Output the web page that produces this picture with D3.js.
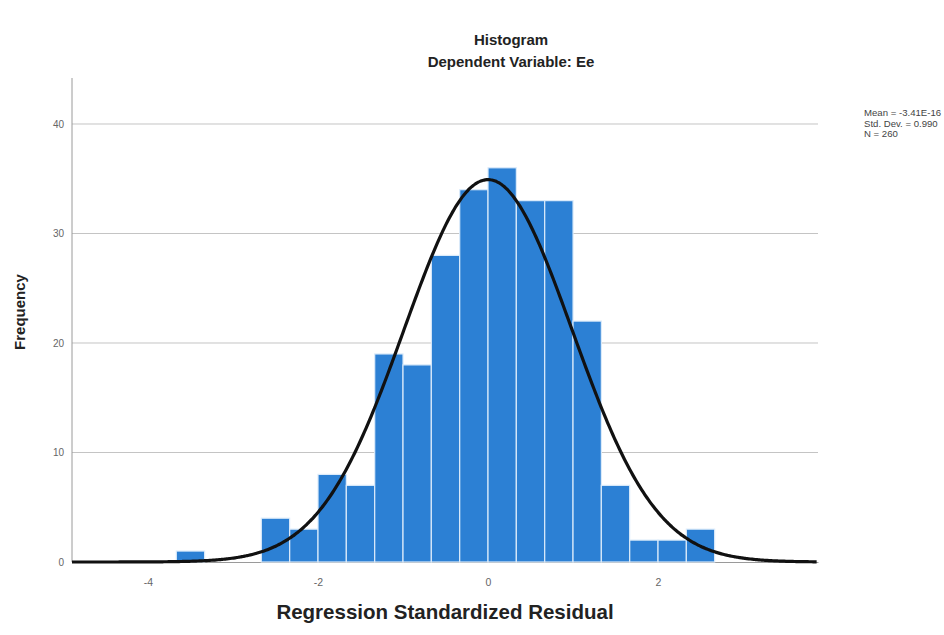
<!DOCTYPE html>
<html>
<head>
<meta charset="utf-8">
<script src="https://cdn.jsdelivr.net/npm/d3@7"></script>
<style>
  html, body { margin: 0; padding: 0; background: #ffffff; }
  svg { display: block; font-family: "Liberation Sans", Arial, sans-serif; }
</style>
</head>
<body>
<svg id="chart" width="944" height="635"></svg>
<script>
// Histogram of regression standardized residuals with fitted normal curve
const binLower = [-3.667, -2.667, -2.333, -2.000, -1.667, -1.333, -1.000, -0.667,
                  -0.333, 0.000, 0.333, 0.667, 1.000, 1.333, 1.667, 2.000, 2.333];
const counts   = [1, 4, 3, 8, 7, 19, 18, 28, 34, 36, 33, 33, 22, 7, 2, 2, 3];
const binWidth = 0.3333;

const xTicks = [-4, -2, 0, 2];
const yTicks = [0, 10, 20, 30, 40];

const stats = { mean: -3.41e-16, sd: 0.990, n: 260 };
const statLines = ["Mean = -3.41E-16", "Std. Dev. = 0.990", "N = 260"];

const titleText = "Histogram";
const subtitleText = "Dependent Variable: Ee";
const xTitle = "Regression Standardized Residual";
const yTitle = "Frequency";

const svg = d3.select("#chart");

const plot = { left: 72, right: 818, top: 78, bottom: 562 };

const x = d3.scaleLinear().domain([-4.894, 3.882]).range([plot.left, plot.right]);
const y = d3.scaleLinear().domain([0, 44.2]).range([plot.bottom, plot.top]);

// horizontal gridlines
svg.append("g")
  .selectAll("line")
  .data(yTicks.filter(d => d > 0))
  .join("line")
  .attr("x1", plot.left).attr("x2", plot.right)
  .attr("y1", d => y(d)).attr("y2", d => y(d))
  .attr("stroke", "#c4c4c4").attr("stroke-width", 1);

// y axis
const yAxis = d3.axisLeft(y).tickValues(yTicks).tickSize(0).tickPadding(8);
const gy = svg.append("g").attr("transform", `translate(${plot.left},0)`).call(yAxis);
gy.select(".domain").attr("stroke", "#9a9a9a").attr("d", `M0,${plot.top}V${plot.bottom}`);
gy.selectAll("text").attr("fill", "#666").style("font-size", "10px");

// x axis (plain hyphen for negatives)
const xAxis = d3.axisBottom(x).tickValues(xTicks).tickSize(0).tickPadding(17)
  .tickFormat(d => String(d));
const gx = svg.append("g").attr("transform", `translate(0,${plot.bottom})`).call(xAxis);
gx.select(".domain").attr("stroke", "#9a9a9a");
gx.selectAll("text").attr("fill", "#666").style("font-size", "10.5px");

// bars
svg.append("g")
  .selectAll("rect")
  .data(counts.map((c, i) => ({ lo: binLower[i], c })))
  .join("rect")
  .attr("x", d => x(d.lo))
  .attr("width", d => x(d.lo + binWidth) - x(d.lo))
  .attr("y", d => y(d.c))
  .attr("height", d => y(0) - y(d.c))
  .attr("fill", "#2c80d4")
  .attr("stroke", "#dcebfa")
  .attr("stroke-width", 1.2);

// fitted normal curve scaled to counts
const scaleFactor = stats.n * binWidth;
const pts = d3.range(x.domain()[0], x.domain()[1] + 0.001, 0.02).map(v => {
  const z = (v - stats.mean) / stats.sd;
  return [v, scaleFactor * Math.exp(-0.5 * z * z) / (stats.sd * Math.sqrt(2 * Math.PI))];
});
svg.append("path")
  .datum(pts)
  .attr("d", d3.line().x(d => x(d[0])).y(d => y(d[1])).curve(d3.curveBasis))
  .attr("fill", "none")
  .attr("stroke", "#111")
  .attr("stroke-width", 3.2);

// titles
svg.append("text").attr("x", 511).attr("y", 45).attr("text-anchor", "middle")
  .style("font-weight", "bold").style("font-size", "15px").attr("fill", "#222")
  .text(titleText);
svg.append("text").attr("x", 511).attr("y", 67).attr("text-anchor", "middle")
  .style("font-weight", "bold").style("font-size", "15px").attr("fill", "#222")
  .text(subtitleText);

svg.append("text").attr("x", 445).attr("y", 619).attr("text-anchor", "middle")
  .style("font-weight", "bold").style("font-size", "20.5px").attr("fill", "#222")
  .text(xTitle);

svg.append("text")
  .attr("transform", "translate(25,312) rotate(-90)")
  .attr("text-anchor", "middle")
  .style("font-weight", "bold").style("font-size", "15px").attr("fill", "#222")
  .text(yTitle);

// statistics block
svg.append("g")
  .selectAll("text")
  .data(statLines)
  .join("text")
  .attr("x", 864)
  .attr("y", (d, i) => 116 + i * 10.5)
  .style("font-size", "9.6px")
  .attr("fill", "#444")
  .text(d => d);
</script>
</body>
</html>
